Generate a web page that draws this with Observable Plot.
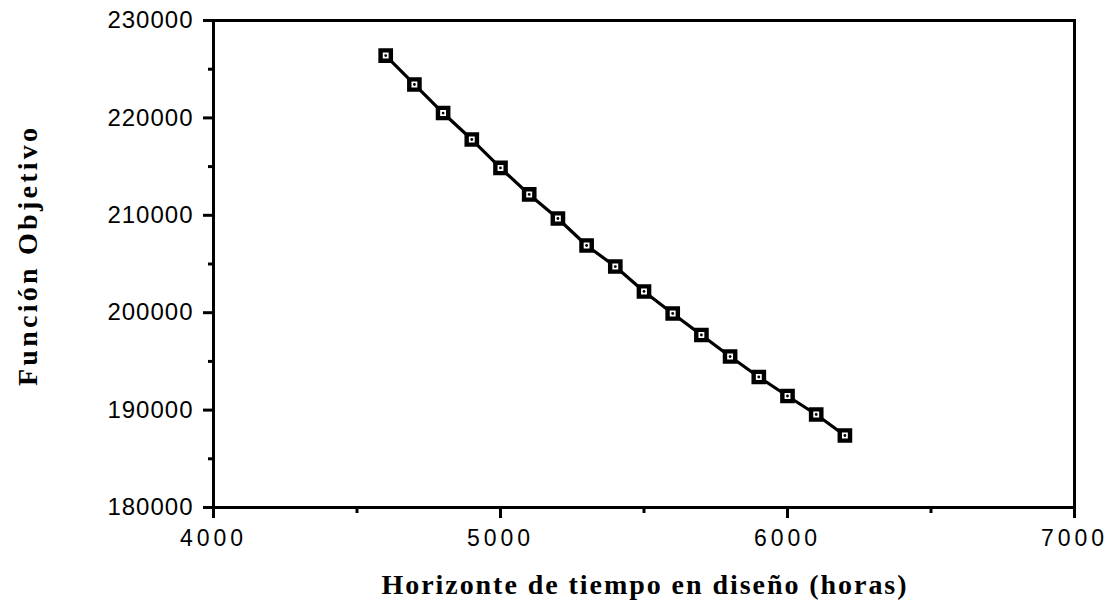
<!DOCTYPE html>
<html>
<head>
<meta charset="utf-8">
<script src="https://cdn.jsdelivr.net/npm/d3@7"></script>
<script src="https://cdn.jsdelivr.net/npm/@observablehq/plot@0.6"></script>
<style>
  html, body { margin: 0; padding: 0; background: #fff; }
</style>
</head>
<body>
<div id="chart"></div>
<script>
// Data
const horizonte = [4600, 4700, 4800, 4900, 5000, 5100, 5200, 5300, 5400, 5500, 5600, 5700, 5800, 5900, 6000, 6100, 6200];
const funcion = [226400, 223430, 220500, 217780, 214860, 212140, 209670, 206900, 204740, 202180, 199920, 197710, 195500, 193400, 191450, 189550, 187390];
const xTicks = [4000, 5000, 6000, 7000];
const xMinor = [4500, 5500, 6500];
const yTicks = [180000, 190000, 200000, 210000, 220000, 230000];
const yMinor = [185000, 195000, 205000, 215000, 225000];
const xTitle = "Horizonte de tiempo en diseño (horas)";
const yTitle = "Función Objetivo";

const data = horizonte.map((h, i) => ({h, f: funcion[i]}));
const serif = "'Liberation Serif', 'DejaVu Serif', serif";

const plot = Plot.plot({
  width: 1116,
  height: 609,
  marginLeft: 213,
  marginRight: 42,
  marginTop: 20,
  marginBottom: 102,
  style: {fontFamily: "'Liberation Sans', Arial, sans-serif", background: "#fff", color: "#000"},
  x: {domain: [4000, 7000]},
  y: {domain: [180000, 230000]},
  marks: [
    Plot.axisX(xTicks, {tickSize: 11, tickPadding: 11, fontSize: 23, strokeWidth: 3, label: null, tickFormat: d => String(d)}),
    Plot.axisX(xMinor, {tickSize: 6, strokeWidth: 3, label: null, text: null}),
    Plot.axisY(yTicks, {tickSize: 10, tickPadding: 10, fontSize: 24, strokeWidth: 3, label: null, tickFormat: d => String(d)}),
    Plot.axisY(yMinor, {tickSize: 5, strokeWidth: 3, label: null, text: null}),
    Plot.frame({stroke: "#000", strokeWidth: 3}),
    Plot.line(data, {x: "h", y: "f", stroke: "#000", strokeWidth: 3.2}),
    Plot.dot(data, {x: "h", y: "f", symbol: "square", r: 5.8, fill: "#fff", stroke: "#000", strokeWidth: 4.4}),
    Plot.dot(data, {x: "h", y: "f", r: 1.4, fill: "#000"}),
    Plot.text([xTitle], {frameAnchor: "bottom", textAnchor: "middle", lineAnchor: "middle", dy: 78, fontSize: 28, fontWeight: "bold", fontFamily: serif, fill: "#000"}),
    Plot.text([yTitle], {frameAnchor: "left", textAnchor: "middle", lineAnchor: "middle", dx: -185, dy: -7, rotate: -90, fontSize: 28, fontWeight: "bold", fontFamily: serif, fill: "#000"})
  ]
});

const sel = d3.select(plot);
sel.selectAll("g[aria-label='x-axis tick label'] text").style("font-size", "23px").attr("letter-spacing", "4px");
sel.selectAll("g[aria-label='y-axis tick label'] text").style("font-size", "24px").attr("letter-spacing", "1px");
// titles: force exact widths measured on the reference
const titles = sel.selectAll("g[aria-label='text'] text");
titles.style("font-size", "28px");
titles.each(function() {
  const t = d3.select(this);
  const txt = t.text();
  if (txt === xTitle) t.attr("textLength", 525).attr("lengthAdjust", "spacing");
  if (txt === yTitle) t.attr("textLength", 258).attr("lengthAdjust", "spacing");
});

document.getElementById("chart").appendChild(plot);
</script>
</body>
</html>
